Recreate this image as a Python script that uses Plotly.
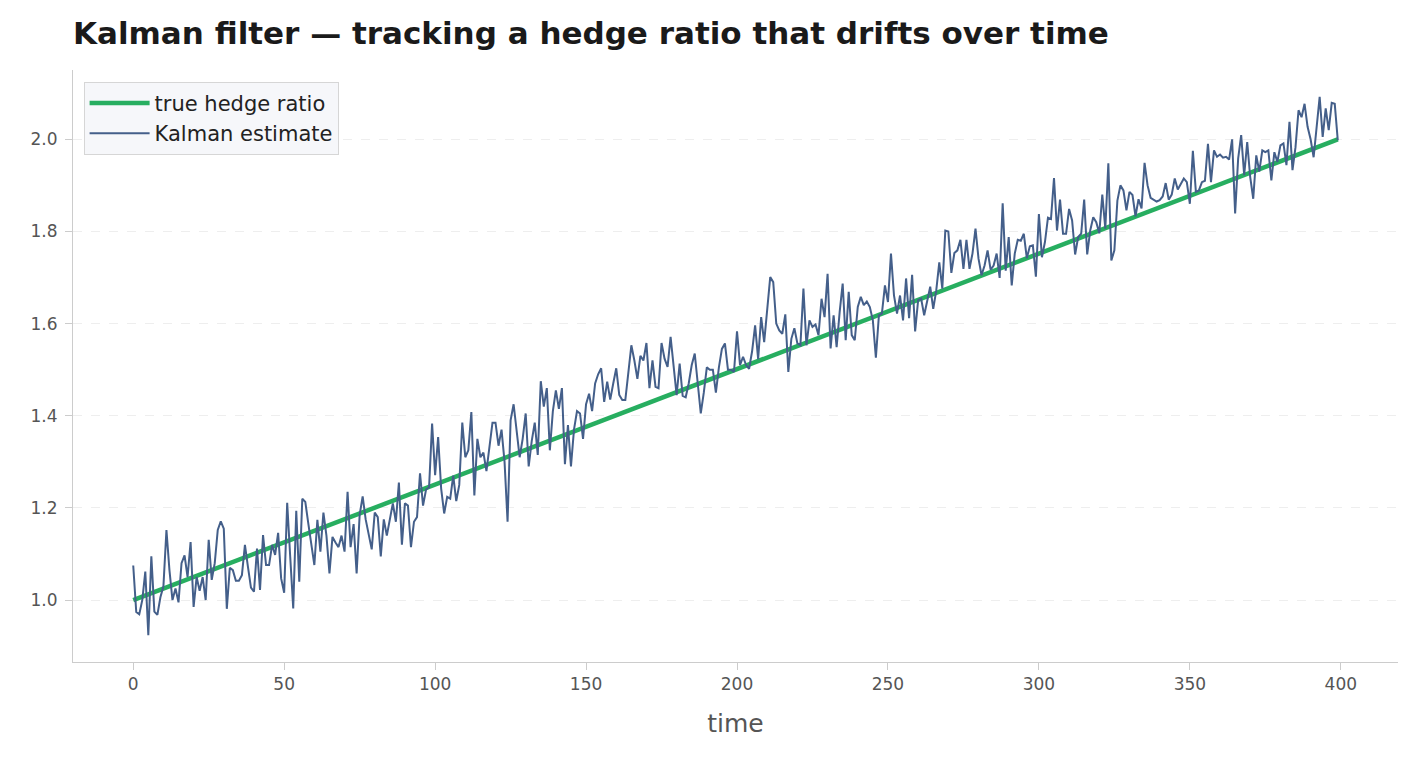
import plotly.graph_objects as go

# Kalman filter estimate (t = 0 .. 399)
kalman_estimate = [
    1.075, 0.974, 0.969, 1.000, 1.062, 0.924, 1.095, 0.975, 0.968, 1.006,
    1.030, 1.152, 1.065, 1.000, 1.025, 0.995, 1.080, 1.097, 1.050, 1.126,
    0.985, 1.050, 1.020, 1.050, 1.000, 1.131, 1.044, 1.080, 1.152, 1.171,
    1.155, 0.981, 1.070,
    1.065, 1.042, 1.042, 1.054, 1.120, 1.072, 1.027, 1.018, 1.112, 1.022,
    1.141, 1.076, 1.076, 1.120, 1.098, 1.146, 1.047, 1.016, 1.211, 1.094,
    0.982, 1.194, 1.040, 1.220, 1.213, 1.166, 1.120, 1.076, 1.174, 1.105,
    1.190, 1.140, 1.058,
    1.137, 1.125, 1.115, 1.140, 1.105, 1.235, 1.115, 1.165, 1.058, 1.185,
    1.225, 1.175, 1.145, 1.110, 1.190, 1.180, 1.095, 1.175, 1.140, 1.175,
    1.210, 1.170, 1.255, 1.120, 1.210, 1.205, 1.115, 1.170, 1.180, 1.275,
    1.205, 1.240, 1.245,
    1.383, 1.271, 1.354, 1.242, 1.188, 1.224, 1.220, 1.270, 1.215, 1.250,
    1.385, 1.310, 1.325, 1.408, 1.227, 1.350, 1.310, 1.320, 1.280, 1.330,
    1.385, 1.385, 1.335, 1.370, 1.300, 1.170, 1.390, 1.425, 1.360, 1.310,
    1.350, 1.405, 1.290, 1.345, 1.385,
    1.315, 1.475, 1.420, 1.460, 1.325, 1.410, 1.455, 1.415, 1.460, 1.295,
    1.380, 1.290, 1.370, 1.410, 1.405, 1.350, 1.425, 1.448, 1.410, 1.470,
    1.490, 1.503, 1.430, 1.474, 1.435, 1.470, 1.503, 1.445, 1.434, 1.434,
    1.490, 1.553,
    1.520, 1.480, 1.530, 1.520, 1.558, 1.460, 1.520, 1.463, 1.460, 1.558,
    1.524, 1.506, 1.571, 1.510, 1.445, 1.513, 1.443, 1.440, 1.470, 1.510,
    1.535, 1.470, 1.405, 1.450, 1.505, 1.500, 1.500, 1.450, 1.505, 1.545,
    1.557, 1.500, 1.500,
    1.495, 1.583, 1.510, 1.528, 1.510, 1.502, 1.540, 1.596, 1.523, 1.614,
    1.560, 1.625, 1.701, 1.690, 1.600, 1.585, 1.578, 1.620, 1.495, 1.567,
    1.590, 1.557, 1.553, 1.676, 1.553, 1.607, 1.593, 1.598, 1.575, 1.654,
    1.614, 1.708, 1.546,
    1.618, 1.549, 1.625, 1.687, 1.564, 1.669, 1.575, 1.564, 1.636, 1.658,
    1.640, 1.648, 1.636, 1.607, 1.526, 1.618, 1.622, 1.683, 1.647, 1.752,
    1.661, 1.622, 1.661, 1.607, 1.698, 1.612, 1.706, 1.583, 1.651, 1.654,
    1.618, 1.650, 1.680,
    1.632, 1.672, 1.733, 1.676, 1.802, 1.800, 1.710, 1.753, 1.759, 1.782,
    1.719, 1.782, 1.719, 1.752, 1.806, 1.741, 1.705, 1.726, 1.759, 1.717,
    1.726, 1.752, 1.699, 1.861, 1.715, 1.788, 1.683, 1.752, 1.782, 1.780,
    1.795, 1.742, 1.768, 1.770, 1.702, 1.838, 1.744, 1.777, 1.830, 1.827,
    1.916, 1.802, 1.869, 1.795, 1.795, 1.849, 1.824, 1.750, 1.788, 1.795,
    1.869, 1.750, 1.802, 1.831, 1.820, 1.796, 1.880, 1.806, 1.948, 1.737,
    1.759, 1.867, 1.900, 1.889,
    1.846, 1.886, 1.879, 1.833, 1.870, 1.850, 1.949, 1.900, 1.873, 1.868,
    1.865, 1.868, 1.876, 1.905, 1.869, 1.880, 1.915, 1.891, 1.904, 1.915,
    1.907, 1.860, 1.975, 1.886, 1.889, 1.907, 1.910, 1.990, 1.907, 1.976,
    1.962, 1.967, 1.960,
    1.962, 1.956, 2.000, 1.839, 1.958, 2.009, 1.922, 1.994, 1.918, 1.871,
    1.965, 1.930, 1.976, 1.972, 1.976, 1.911, 1.972, 1.951, 1.987, 1.991,
    1.944, 2.038, 1.933, 1.983, 2.063, 2.048, 2.077, 2.027, 2.000, 1.961,
    2.030, 2.092, 2.005, 2.067, 2.020, 2.079, 2.077, 1.998,
]
time = list(range(len(kalman_estimate)))

# true hedge ratio drifts linearly: endpoints
true_time = [0, 399]
true_ratio = [1.0, 2.0]

y_ticks = [1.0, 1.2, 1.4, 1.6, 1.8, 2.0]
x_ticks = [0, 50, 100, 150, 200, 250, 300, 350, 400]

FONT = "DejaVu Sans"

fig = go.Figure()
fig.add_trace(go.Scatter(
    x=true_time, y=true_ratio, mode="lines", name="true hedge ratio",
    line=dict(color="#27ae60", width=4.5),
))
fig.add_trace(go.Scatter(
    x=time, y=kalman_estimate, mode="lines", name="Kalman estimate",
    line=dict(color="#445f8a", width=2),
))

fig.update_layout(
    width=1419, height=759,
    margin=dict(l=73, r=21, t=70, b=97),
    paper_bgcolor="white", plot_bgcolor="white",
    font=dict(family=FONT, color="#444444"),
    title=dict(
        text="<b>Kalman filter — tracking a hedge ratio that drifts over time</b>",
        font=dict(family=FONT, size=31, color="#1a1a1a"),
        x=73 / 1419, xanchor="left", xref="container",
        y=1 - 33 / 759, yanchor="middle", yref="container",
    ),
    showlegend=True,
    legend=dict(
        x=0.008, y=0.98, xanchor="left", yanchor="top",
        bgcolor="rgba(245,247,250,0.95)", bordercolor="#d6d6d6", borderwidth=1,
        font=dict(family=FONT, size=21, color="#222222"),
        tracegroupgap=4, itemwidth=60,
    ),
    xaxis=dict(
        range=[-19.95, 418.95],
        tickvals=x_ticks, ticktext=[str(v) for v in x_ticks],
        showgrid=False, zeroline=False,
        showline=True, linecolor="#cccccc", linewidth=1,
        ticks="outside", ticklen=7, tickcolor="#cccccc",
        tickfont=dict(family=FONT, size=17, color="#555555"),
        title=dict(text="time", font=dict(family=FONT, size=25, color="#555555"), standoff=21),
    ),
    yaxis=dict(
        range=[0.8656, 2.1504],
        tickvals=y_ticks, ticktext=[f"{v:.1f}" for v in y_ticks],
        showgrid=True, gridcolor="#eeeeee", griddash="dash", gridwidth=1,
        zeroline=False,
        showline=True, linecolor="#cccccc", linewidth=1,
        ticks="outside", ticklen=7, tickcolor="#cccccc",
        ticklabelstandoff=4,
        tickfont=dict(family=FONT, size=17, color="#555555"),
    ),
)

fig.write_html("out.html")
